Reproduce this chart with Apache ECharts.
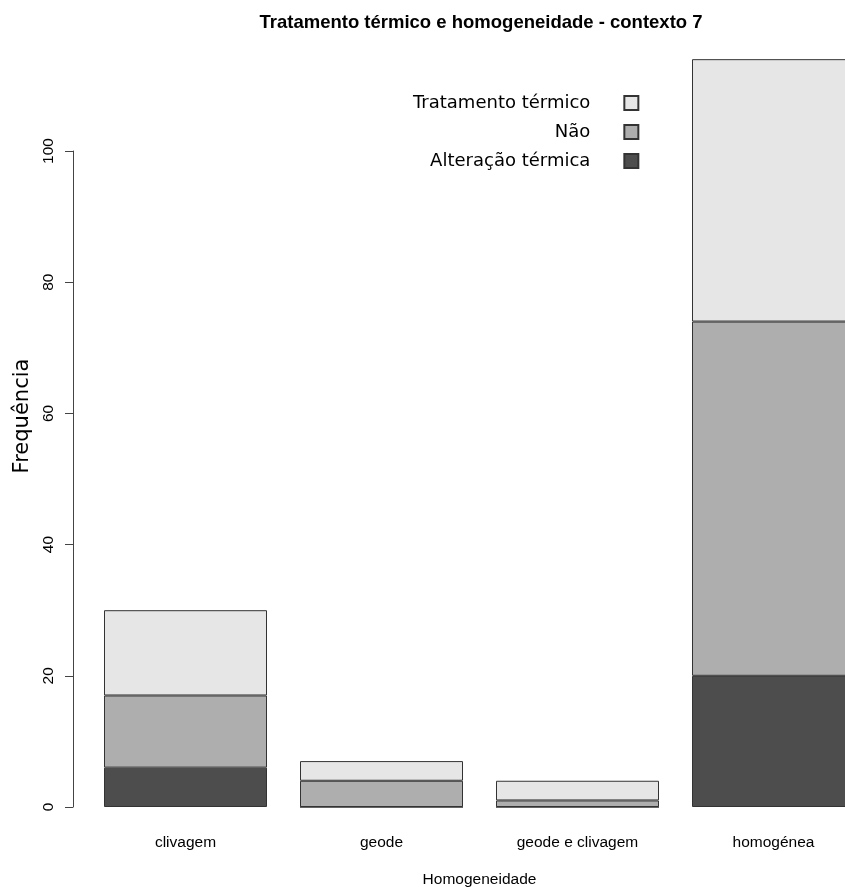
<!DOCTYPE html>
<html>
<head>
<meta charset="utf-8">
<script src="https://cdn.jsdelivr.net/npm/echarts@6/dist/echarts.min.js"></script>
<style>html,body{margin:0;padding:0;background:#fff;overflow:hidden;}#c{width:845px;height:887px;}</style>
</head>
<body>
<div id="c"></div>
<script>
var categories = ['clivagem', 'geode', 'geode e clivagem', 'homogénea'];
var alteracaoTermica = [6, 0, 0, 20];
var nao = [11, 4, 1, 54];
var tratamentoTermico = [13, 3, 3, 40];
var yTicks = [0, 20, 40, 60, 80, 100];

var chart = echarts.init(document.getElementById('c'), null, {renderer: 'canvas'});
var border = {borderColor: '#333', borderWidth: 1};
function mk(name, data, color) {
  return {
    name: name, type: 'bar', stack: 'a', data: data, barWidth: 163, clip: false,
    itemStyle: Object.assign({color: color}, border),
    emphasis: {disabled: true}
  };
}
chart.setOption({
  animation: false,
  backgroundColor: '#fff',
  title: {
    text: 'Tratamento térmico e homogeneidade - contexto 7',
    left: 476, top: 8, textAlign: 'center',
    textStyle: {fontFamily: 'Liberation Sans', fontWeight: 'bold', fontSize: 18.5, color: '#000'}
  },
  legend: {
    data: ['Tratamento térmico', 'Não', 'Alteração térmica'],
    orient: 'vertical', align: 'right', left: 408, top: 89,
    itemWidth: 14, itemHeight: 14, itemGap: 11,
    icon: 'rect',
    selectedMode: false,
    textStyle: {fontFamily: 'DejaVu Sans', fontSize: 18, lineHeight: 18, color: '#000', padding: [0, 29, 0, 0]}
  },
  grid: {left: 87.5, width: 784, top: 151, bottom: 80, containLabel: false, outerBoundsMode: 'none'},
  xAxis: {
    type: 'category', data: categories,
    axisLine: {show: false}, axisTick: {show: false},
    axisLabel: {margin: 28, fontFamily: 'Liberation Sans', fontSize: 15.5, color: '#000', interval: 0},
    name: 'Homogeneidade', nameLocation: 'middle', nameGap: 65,
    nameTextStyle: {fontFamily: 'Liberation Sans', fontSize: 15.5, color: '#000'}
  },
  yAxis: {
    type: 'value', min: 0, max: 100, interval: 20, offset: 14.5,
    axisLine: {show: true, lineStyle: {color: '#444', width: 1}},
    axisTick: {show: true, length: 8, lineStyle: {color: '#444'}},
    splitLine: {show: false},
    axisLabel: {rotate: 90, margin: 16.5, fontFamily: 'Liberation Sans', fontSize: 15.5, color: '#000',
      formatter: function (v) { return yTicks.indexOf(v) >= 0 ? String(v) : ''; }}
  },
  graphic: [{
    type: 'text', x: 23, y: 416, rotation: Math.PI / 2,
    style: {text: 'Frequência', font: '21px "DejaVu Sans"', fill: '#000', textAlign: 'center', textVerticalAlign: 'middle'}
  }],
  series: [
    mk('Alteração térmica', alteracaoTermica, '#4d4d4d'),
    mk('Não', nao, '#aeaeae'),
    mk('Tratamento térmico', tratamentoTermico, '#e6e6e6')
  ]
});
</script>
</body>
</html>
